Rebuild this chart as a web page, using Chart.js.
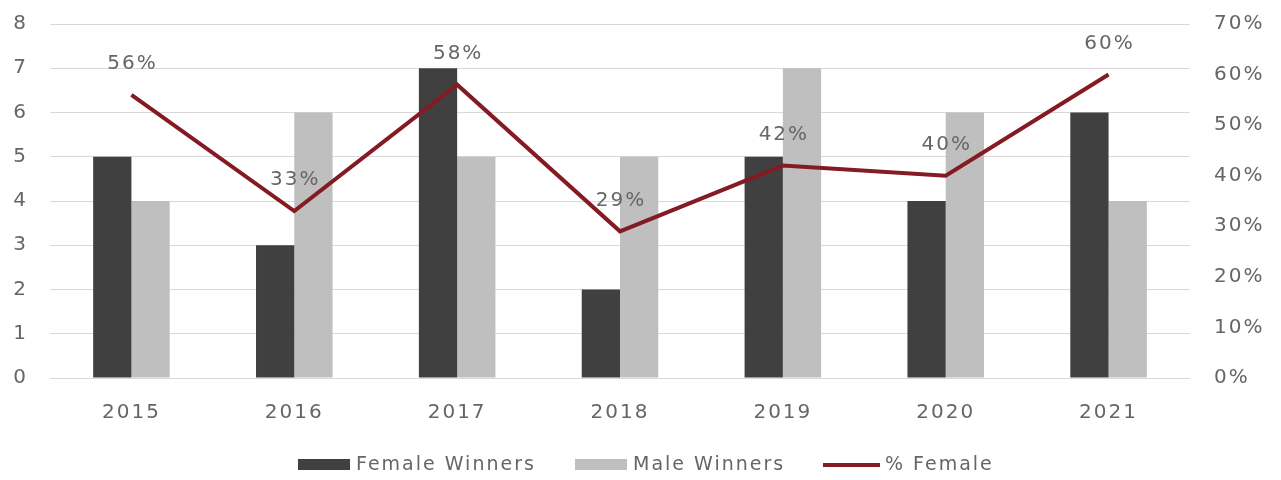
<!DOCTYPE html>
<html>
<head>
<meta charset="utf-8">
<script src="https://cdn.jsdelivr.net/npm/chart.js@4"></script>
<style>
  html, body { margin: 0; padding: 0; background: #fff; }
  #wrap { width: 1281px; height: 480px; }
</style>
</head>
<body>
<div id="wrap"><canvas id="winnersChart" width="1281" height="480"></canvas></div>
<script>
// Vencedores por ano
const years = ['2015', '2016', '2017', '2018', '2019', '2020', '2021'];
const femaleWinners = [5, 3, 7, 2, 5, 4, 6];
const maleWinners = [4, 6, 5, 5, 7, 6, 4];
const pctFemale = [56, 33, 58, 29, 42, 40, 60];

const FONT = '"DejaVu Sans", sans-serif';
const TEXT_COLOR = '#666666';
const SPACING = '2px';

// Espaçamento entre letras para todo o texto do canvas
const letterSpacing = {
    id: 'letterSpacing',
    beforeLayout(chart) { chart.ctx.letterSpacing = SPACING; },
    beforeDraw(chart) { chart.ctx.letterSpacing = SPACING; }
};

// Rótulos de percentual acima da linha
const lineLabels = {
    id: 'lineLabels',
    afterDatasetsDraw(chart) {
        const meta = chart.getDatasetMeta(2);
        const ctx = chart.ctx;
        ctx.save();
        ctx.letterSpacing = SPACING;
        ctx.font = '20px ' + FONT;
        ctx.fillStyle = TEXT_COLOR;
        ctx.textAlign = 'center';
        ctx.textBaseline = 'middle';
        meta.data.forEach((pt, i) => {
            ctx.fillText(pctFemale[i] + '%', pt.x + 1, pt.y - 31);
        });
        ctx.restore();
    }
};

// Legenda desenhada no rodapé
const footerLegend = {
    id: 'footerLegend',
    afterDraw(chart) {
        const ctx = chart.ctx;
        const ds = chart.data.datasets;
        const items = [
            { x: 298, text: ds[0].label, color: ds[0].backgroundColor, line: false },
            { x: 575, text: ds[1].label, color: ds[1].backgroundColor, line: false },
            { x: 823, text: ds[2].label, color: ds[2].borderColor, line: true }
        ];
        const y = 465;
        ctx.save();
        ctx.letterSpacing = SPACING;
        ctx.font = '19px ' + FONT;
        ctx.textBaseline = 'middle';
        items.forEach(it => {
            if (it.line) {
                ctx.strokeStyle = it.color;
                ctx.lineWidth = 4;
                ctx.beginPath();
                ctx.moveTo(it.x, y);
                ctx.lineTo(it.x + 57, y);
                ctx.stroke();
            } else {
                ctx.fillStyle = it.color;
                ctx.fillRect(it.x, y - 6, 52, 11);
            }
            ctx.fillStyle = TEXT_COLOR;
            ctx.fillText(it.text, it.x + (it.line ? 62 : 58), y);
        });
        ctx.restore();
    }
};

// Largura fixa do eixo e sem folga vertical extra vinda do padding dos ticks
const fixAxis = (width) => (scale) => {
    scale.width = width;
    scale.paddingTop = 12;
    scale.paddingBottom = 12;
};

const ctx = document.getElementById('winnersChart').getContext('2d');
const chart = new Chart(ctx, {
    type: 'bar',
    data: {
        labels: years,
        datasets: [
            {
                label: 'Female Winners',
                data: femaleWinners,
                backgroundColor: '#404040',
                yAxisID: 'y',
                order: 2,
                categoryPercentage: 0.47,
                barPercentage: 1.0
            },
            {
                label: 'Male Winners',
                data: maleWinners,
                backgroundColor: '#bfbfbf',
                yAxisID: 'y',
                order: 2,
                categoryPercentage: 0.47,
                barPercentage: 1.0
            },
            {
                type: 'line',
                label: '% Female',
                data: pctFemale,
                borderColor: '#841a22',
                backgroundColor: '#841a22',
                borderWidth: 4,
                pointRadius: 0,
                tension: 0,
                yAxisID: 'y1',
                order: 1
            }
        ]
    },
    options: {
        responsive: false,
        animation: false,
        layout: { padding: { top: 24, right: 0, bottom: 52, left: 0 } },
        plugins: {
            legend: { display: false },
            tooltip: { enabled: false }
        },
        scales: {
            x: {
                grid: { display: false },
                border: { display: false },
                ticks: { color: TEXT_COLOR, font: { family: FONT, size: 20 }, padding: 15 },
                afterFit: (scale) => { scale.height = 50; }
            },
            y: {
                position: 'left',
                min: 0,
                max: 8,
                ticks: { stepSize: 1, color: TEXT_COLOR, font: { family: FONT, size: 20 }, padding: 22 },
                grid: { color: '#d9d9d9', drawTicks: false },
                border: { display: false },
                afterFit: fixAxis(50)
            },
            y1: {
                position: 'right',
                min: 0,
                max: 70,
                ticks: {
                    stepSize: 10,
                    color: TEXT_COLOR,
                    font: { family: FONT, size: 20 },
                    padding: 24,
                    callback: (v) => v + '%'
                },
                grid: { drawOnChartArea: false, drawTicks: false },
                border: { display: false },
                afterFit: fixAxis(91)
            }
        }
    },
    plugins: [letterSpacing, lineLabels, footerLegend]
});
</script>
</body>
</html>
